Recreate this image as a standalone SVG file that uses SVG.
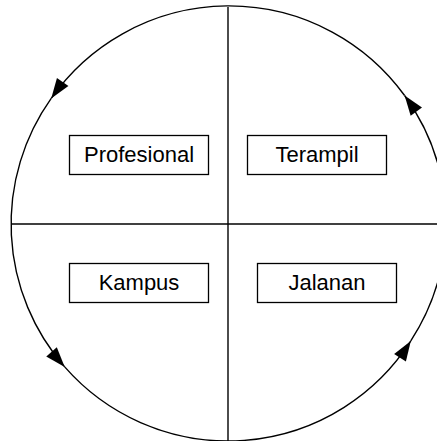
<svg xmlns="http://www.w3.org/2000/svg" width="437" height="441" viewBox="0 0 437 441">
<style>
.ln{fill:none;stroke:#000;stroke-width:1.4}
.box{fill:#fff;stroke:#000;stroke-width:1.3}
.lbl{font-family:"Liberation Sans",Arial,sans-serif;font-size:22px;fill:#000;text-anchor:middle}
</style>
<defs>
<marker id="ah" markerUnits="userSpaceOnUse" viewBox="0 0 20 14" markerWidth="20" markerHeight="14" refX="20" refY="7" orient="auto" overflow="visible">
<path d="M0,0 L20,7 L0,14 z" fill="#000"/>
</marker>
</defs>
<rect width="437" height="441" fill="#fff"/>
<g id="axes">
<line class="ln" x1="228" y1="7" x2="228" y2="441"/>
<line class="ln" x1="11" y1="224" x2="437" y2="224"/>
</g>
<g id="connectors">
<path class="ln" marker-end="url(#ah)" d="M404.6,95.5 A217,217 0 0 0 51.2,98.4"/>
<path class="ln" marker-end="url(#ah)" d="M51.2,98.4 A217,217 0 0 0 64.7,366.9"/>
<path class="ln" marker-end="url(#ah)" d="M64.7,366.9 A217,217 0 0 0 410.8,340.9"/>
<path class="ln" marker-end="url(#ah)" d="M410.8,340.9 A217,217 0 0 0 404.6,95.5"/>
</g>
<g id="profesional">
<rect class="box" x="69.5" y="135.5" width="139" height="39"/>
<text class="lbl" x="139" y="162">Profesional</text>
</g>
<g id="terampil">
<rect class="box" x="247.5" y="135.5" width="139" height="39"/>
<text class="lbl" x="317" y="162">Terampil</text>
</g>
<g id="kampus">
<rect class="box" x="69.5" y="263.5" width="139" height="39"/>
<text class="lbl" x="139" y="290">Kampus</text>
</g>
<g id="jalanan">
<rect class="box" x="257.5" y="263.5" width="139" height="39"/>
<text class="lbl" x="327" y="290">Jalanan</text>
</g>
</svg>
